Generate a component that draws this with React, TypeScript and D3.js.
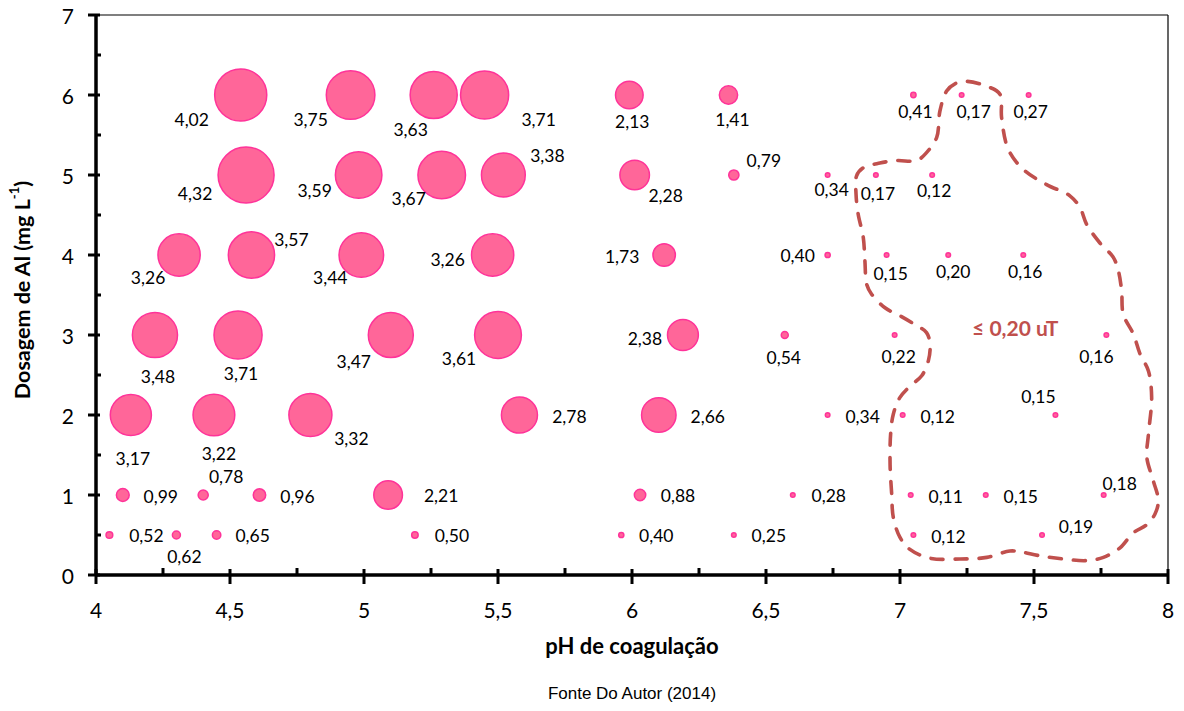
import React, { useEffect } from 'react';
import * as d3 from 'd3';

// pH de coagulação, dosagem de Al (mg/L) e turbidez remanescente (uT)
const ph = [
  4.54, 4.95, 5.26, 5.45, 5.99, 6.36, 7.05, 7.23, 7.48,
  4.56, 4.98, 5.29, 5.52, 6.01, 6.38, 6.73, 6.91, 7.12,
  4.31, 4.58, 4.99, 5.48, 6.12, 6.73, 6.95, 7.18, 7.46,
  4.22, 4.53, 5.10, 5.50, 6.19, 6.57, 6.98, 7.77,
  4.13, 4.44, 4.80, 5.58, 6.10, 6.73, 7.01, 7.58,
  4.10, 4.40, 4.61, 5.09, 6.03, 6.60, 7.04, 7.32, 7.76,
  4.05, 4.30, 4.45, 5.19, 5.96, 6.38, 7.05, 7.53,
];
const dose = [
  6, 6, 6, 6, 6, 6, 6, 6, 6,
  5, 5, 5, 5, 5, 5, 5, 5, 5,
  4, 4, 4, 4, 4, 4, 4, 4, 4,
  3, 3, 3, 3, 3, 3, 3, 3,
  2, 2, 2, 2, 2, 2, 2, 2,
  1, 1, 1, 1, 1, 1, 1, 1, 1,
  0.5, 0.5, 0.5, 0.5, 0.5, 0.5, 0.5, 0.5,
];
const turb = [
  4.02, 3.75, 3.63, 3.71, 2.13, 1.41, 0.41, 0.17, 0.27,
  4.32, 3.59, 3.67, 3.38, 2.28, 0.79, 0.34, 0.17, 0.12,
  3.26, 3.57, 3.44, 3.26, 1.73, 0.40, 0.15, 0.20, 0.16,
  3.48, 3.71, 3.47, 3.61, 2.38, 0.54, 0.22, 0.16,
  3.17, 3.22, 3.32, 2.78, 2.66, 0.34, 0.12, 0.15,
  0.99, 0.78, 0.96, 2.21, 0.88, 0.28, 0.11, 0.15, 0.18,
  0.52, 0.62, 0.65, 0.50, 0.40, 0.25, 0.12, 0.19,
];

// deslocamento dos rótulos (px) em relação ao centro da bolha
const labelDx = [
  -49, -40, -23, 54, 3, 4, 2, 12, 2,
  -51, -44, -33, 44, 31, 30, 4, 2, 2,
  -31, 40, -31, -45, -42, -30, 4, 5, 2,
  3, 3, -37, -39, -38, -1, 4, -10,
  2, 5, 41, 50, 49, 35, 35, -17,
  38, 23, 38, 53, 38, 36, 35, 35, 16,
  37, 8, 36, 37, 35, 35, 35, 34,
];
const labelDy = [
  24, 24, 34, 24, 26, 24, 16, 16, 16,
  18, 15, 23, -20, 20, -15, 14, 18, 15,
  22, -16, 22, 4, 1, 0, 18, 16, 16,
  41, 38, 26, 23, 3, 22, 21, 21,
  43, 38, 23, 1, 1, 1, 1, -19,
  1, -19, 1, 0, 0, 0, 1, 1, -12,
  0, 21, 0, 0, 0, 0, 1, -9,
];

// contorno tracejado (região <= 0,20 uT)
const contourPh = [
  7.149, 7.174, 7.205, 7.249, 7.323, 7.373, 7.379, 7.404, 7.460, 7.547, 7.634, 7.672,
  7.697, 7.746, 7.796, 7.815, 7.827, 7.833, 7.871, 7.896, 7.927, 7.939, 7.927, 7.921,
  7.945, 7.964, 7.951, 7.921, 7.871, 7.821, 7.759, 7.697, 7.609, 7.522, 7.448, 7.410,
  7.324, 7.224, 7.112, 7.037, 7.000, 6.975, 6.969, 6.963, 6.965, 6.975, 7.000, 7.037,
  7.081, 7.106, 7.112, 7.099, 7.056, 7.000, 6.944, 6.894, 6.876, 6.869, 6.863, 6.844,
  6.836, 6.838, 6.863, 6.925, 6.988, 7.062, 7.099, 7.137,
];
const contourDose = [
  5.80, 6.05, 6.14, 6.17, 6.11, 6.01, 5.72, 5.32, 5.07, 4.88, 4.74, 4.59,
  4.38, 4.15, 3.97, 3.80, 3.55, 3.26, 3.01, 2.76, 2.55, 2.22, 1.76, 1.47,
  1.18, 0.93, 0.76, 0.63, 0.53, 0.34, 0.22, 0.18, 0.20, 0.24, 0.29, 0.30,
  0.22, 0.20, 0.21, 0.32, 0.47, 0.72, 1.01, 1.38, 1.76, 2.01, 2.22, 2.36,
  2.49, 2.68, 2.88, 3.03, 3.13, 3.24, 3.34, 3.51, 3.63, 3.93, 4.22, 4.51,
  4.76, 4.99, 5.09, 5.15, 5.18, 5.18, 5.28, 5.47,
];

const xTicks = [4, 4.5, 5, 5.5, 6, 6.5, 7, 7.5, 8];
const xMinor = [4.25, 4.75, 5.25, 5.75, 6.25, 6.75, 7.25, 7.75];
const yTicks = [0, 1, 2, 3, 4, 5, 6, 7];
const yMinor = [0.5, 1.5, 2.5, 3.5, 4.5, 5.5, 6.5];

const fmt = (v: number) => String(v).replace('.', ',');
const fmt2 = (v: number) => v.toFixed(2).replace('.', ',');

export default function App() {
  useEffect(() => {
    document.body.style.margin = '0';
  }, []);

  const W = 1184, H = 711;
  const x = d3.scaleLinear().domain([4, 8]).range([96, 1168]);
  const y = d3.scaleLinear().domain([0, 7]).range([575, 15]);
  const r = d3.scaleLinear().domain([0, 4.32]).range([0, 28]);

  const contour = d3.line<number>()
    .x(i => x(contourPh[i]))
    .y(i => y(contourDose[i]))
    .curve(d3.curveCatmullRomClosed.alpha(0.5));

  const font = 'Lato, sans-serif';

  return (
    <svg width={W} height={H} style={{ display: 'block', background: '#fff' }}>
      {/* moldura */}
      <line x1={x(4)} x2={x(8)} y1={y(7)} y2={y(7)} stroke="#000" strokeWidth={1.2} />
      <line x1={x(8)} x2={x(8)} y1={y(7)} y2={y(0)} stroke="#000" strokeWidth={1.2} />

      {/* contorno */}
      <path d={contour(d3.range(contourPh.length)) || ''} fill="none" stroke="#C0504D"
        strokeWidth={3.6} strokeDasharray="12 12" strokeLinecap="round" />
      <text x={x(7.43)} y={y(3.1)} textAnchor="middle" dominantBaseline="central"
        fontFamily={font} fontWeight="bold" fontSize={21} fill="#C0504D">≤ 0,20 uT</text>

      {/* bolhas */}
      {ph.map((p, i) => (
        <circle key={'c' + i} cx={x(p)} cy={y(dose[i])} r={Math.max(r(turb[i]), 2.3)}
          fill="#FF6699" stroke="#FF3399" strokeWidth={1.5} />
      ))}
      {ph.map((p, i) => (
        <text key={'t' + i} x={x(p) + labelDx[i]} y={y(dose[i]) + labelDy[i]}
          textAnchor="middle" dominantBaseline="central" fontFamily={font} fontSize={17.5} fill="#000">
          {fmt2(turb[i])}
        </text>
      ))}

      {/* eixos */}
      <line x1={x(4)} x2={x(4)} y1={y(7)} y2={y(0)} stroke="#000" strokeWidth={3.5} />
      <line x1={x(4)} x2={x(8)} y1={y(0)} y2={y(0)} stroke="#000" strokeWidth={3.5} />
      {yTicks.map(t => (
        <g key={'yt' + t}>
          <line x1={x(4) - 8} x2={x(4) + 4} y1={y(t)} y2={y(t)} stroke="#000" strokeWidth={3} />
          <text x={x(4) - 22} y={y(t)} textAnchor="end" dominantBaseline="central"
            fontFamily={font} fontSize={21}>{fmt(t)}</text>
        </g>
      ))}
      {yMinor.map(t => (
        <line key={'ym' + t} x1={x(4)} x2={x(4) + 5} y1={y(t)} y2={y(t)} stroke="#000" strokeWidth={3} />
      ))}
      {xTicks.map(t => (
        <g key={'xt' + t}>
          <line x1={x(t)} x2={x(t)} y1={y(0) - 6} y2={y(0) + 9} stroke="#000" strokeWidth={3} />
          <text x={x(t)} y={y(0) + 34} textAnchor="middle" dominantBaseline="central"
            fontFamily={font} fontSize={21}>{fmt(t)}</text>
        </g>
      ))}
      {xMinor.map(t => (
        <line key={'xm' + t} x1={x(t)} x2={x(t)} y1={y(0) - 7} y2={y(0)} stroke="#000" strokeWidth={3} />
      ))}

      {/* títulos */}
      <text x={632} y={645} textAnchor="middle" dominantBaseline="central"
        fontFamily={font} fontWeight="bold" fontSize={22}>pH de coagulação</text>
      <text transform="translate(22,290) rotate(-90)" textAnchor="middle" dominantBaseline="central"
        fontFamily={font} fontWeight="bold" fontSize={21.5}>
        Dosagem de Al (mg L<tspan dy={-8} fontSize={13}>-1</tspan><tspan dy={8}>)</tspan>
      </text>
      <text x={632} y={693} textAnchor="middle" dominantBaseline="central"
        fontFamily="'Liberation Sans', Arial, sans-serif" fontSize={17}>Fonte Do Autor (2014)</text>
    </svg>
  );
}
